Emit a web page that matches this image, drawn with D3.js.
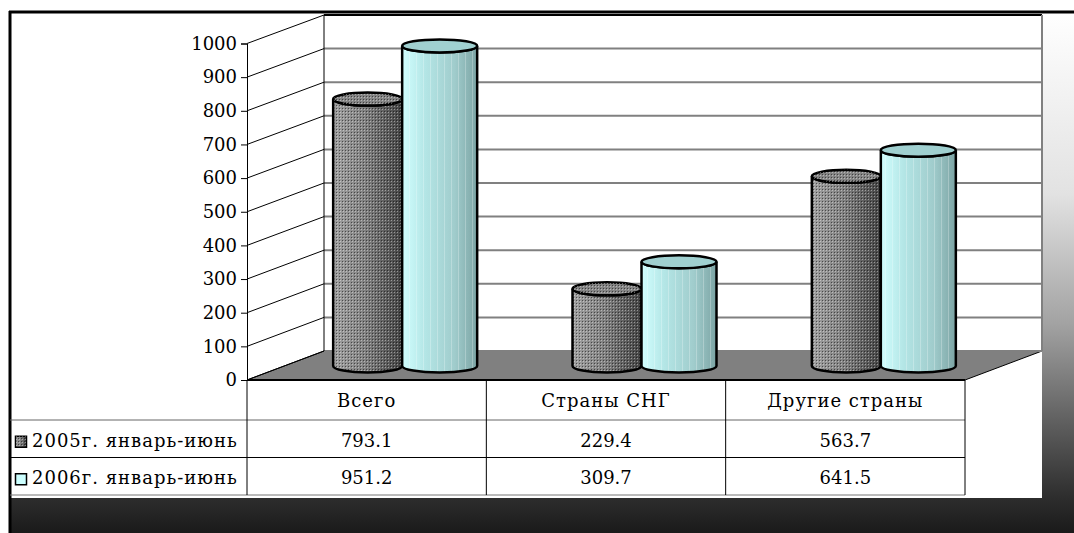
<!DOCTYPE html>
<html>
<head>
<meta charset="utf-8">
<script src="https://cdn.jsdelivr.net/npm/d3@7"></script>
<style>
  body { margin: 0; background: #fff; }
  text { font-family: "DejaVu Serif", serif; fill: #000; }
  .cyr { letter-spacing: 1px; }
</style>
</head>
<body>
<svg id="chart" width="1074" height="533"></svg>
<script>
var categories = ["Всего", "Страны СНГ", "Другие страны"];
var seriesNames = ["2005г. январь-июнь", "2006г. январь-июнь"];
var values2005 = [793.1, 229.4, 563.7];
var values2006 = [951.2, 309.7, 641.5];
var yTicks = [0, 100, 200, 300, 400, 500, 600, 700, 800, 900, 1000];

var svg = d3.select("#chart"),
    W = +svg.attr("width"),
    H = +svg.attr("height");

var depthX = 77, depthY = 29;

var x = d3.scaleBand()
    .domain(categories)
    .range([247, 965]);

// front axis, back wall, and the middle plane where the cylinders stand
var yFront = d3.scaleLinear().domain([0, 1000]).range([380, 43.5]);
var yBack = d3.scaleLinear().domain([0, 1000]).range([351, 15]);
var yMid = d3.scaleLinear().domain([0, 1000]).range([366, 29.5]);

var defs = svg.append("defs");

var bg = defs.append("linearGradient").attr("id", "bg")
    .attr("x1", 0).attr("y1", 0).attr("x2", 0).attr("y2", 1);
[[0, "#ffffff"], [0.35, "#e2e2e2"], [0.6, "#a2a2a2"], [0.78, "#626262"], [0.93, "#2e2e2e"], [1, "#1a1a1a"]]
    .forEach(function(s) { bg.append("stop").attr("offset", s[0]).attr("stop-color", s[1]); });

var gDark = defs.append("linearGradient").attr("id", "gDark");
[[0, "#a0a0a0"], [0.45, "#828282"], [1, "#444444"]]
    .forEach(function(s) { gDark.append("stop").attr("offset", s[0]).attr("stop-color", s[1]); });

var gCyan = defs.append("linearGradient").attr("id", "gCyan");
[[0, "#d2ffff"], [0.3, "#b4e6e6"], [0.7, "#a0cccc"], [1, "#7ca4a4"]]
    .forEach(function(s) { gCyan.append("stop").attr("offset", s[0]).attr("stop-color", s[1]); });

var dots = defs.append("pattern").attr("id", "dots")
    .attr("width", 3).attr("height", 3).attr("patternUnits", "userSpaceOnUse");
dots.append("rect").attr("width", 1).attr("height", 1).attr("fill", "rgba(0,0,0,0.5)");
dots.append("rect").attr("x", 1).attr("y", 1).attr("width", 1).attr("height", 1).attr("fill", "rgba(255,255,255,0.4)");

var stripes = defs.append("pattern").attr("id", "stripes")
    .attr("width", 7).attr("height", 10).attr("patternUnits", "userSpaceOnUse");
stripes.append("rect").attr("x", 3).attr("width", 1).attr("height", 10).attr("fill", "rgba(255,255,255,0.25)");

// slide background
svg.append("rect").attr("x", 10).attr("y", 12).attr("width", W - 10).attr("height", H - 12)
    .attr("fill", "url(#bg)");
svg.append("rect").attr("x", 10).attr("y", 12).attr("width", 1032).attr("height", 486)
    .attr("fill", "#fff");
svg.append("line").attr("x1", 9).attr("x2", W).attr("y1", 12).attr("y2", 12)
    .attr("stroke", "#000").attr("stroke-width", 3);
svg.append("line").attr("x1", 10).attr("x2", 10).attr("y1", 11).attr("y2", H)
    .attr("stroke", "#000").attr("stroke-width", 3);

var g = svg.append("g");
var x0 = x.range()[0], x1 = x.range()[1];

// floor
g.append("path")
    .attr("d", "M" + x0 + "," + yFront(0) + "L" + x1 + "," + yFront(0) +
        "L" + (x1 + depthX) + "," + yBack(0) + "L" + (x0 + depthX) + "," + yBack(0) + "Z")
    .attr("fill", "#808080").attr("stroke", "#000").attr("stroke-width", 1);

// back wall gridlines
g.selectAll(".grid").data(yTicks).enter().append("line")
    .attr("x1", x0 + depthX).attr("x2", x1 + depthX)
    .attr("y1", function(d) { return yBack(d); })
    .attr("y2", function(d) { return yBack(d); })
    .attr("stroke", function(d) { return d == 1000 ? "#000" : "#808080"; })
    .attr("stroke-width", 2);

// side wall diagonals
g.selectAll(".diag").data(yTicks).enter().append("line")
    .attr("x1", x0).attr("x2", x0 + depthX)
    .attr("y1", function(d) { return yFront(d); })
    .attr("y2", function(d) { return yBack(d); })
    .attr("stroke", "#000").attr("stroke-width", 1);

g.append("line").attr("x1", x0 + depthX).attr("x2", x0 + depthX)
    .attr("y1", yBack(1000)).attr("y2", yBack(0)).attr("stroke", "#000");
g.append("line").attr("x1", x1 + depthX).attr("x2", x1 + depthX)
    .attr("y1", yBack(1000)).attr("y2", yBack(0)).attr("stroke", "#808080").attr("stroke-width", 2);

// y axis
var yAxis = g.append("g")
    .attr("transform", "translate(" + x0 + ",0)")
    .call(d3.axisLeft(yFront).tickValues(yTicks).tickSize(6).tickPadding(4).tickFormat(d3.format("d")));
yAxis.selectAll("text").style("font-size", "18px").style("font-family", "DejaVu Serif").attr("fill", "#000");
yAxis.selectAll("line").attr("stroke", "#000");
yAxis.select(".domain").attr("stroke", "#000");

// cylinders
function cylinder(left, right, v, fill, overlay, topFill) {
    var rx = (right - left) / 2, ry = 6.5, cx = (left + right) / 2;
    var b = yMid(0), t = yMid(v);
    var body = "M" + left + "," + t + "L" + left + "," + b +
        "A" + rx + "," + ry + " 0 0 0 " + right + "," + b +
        "L" + right + "," + t +
        "A" + rx + "," + ry + " 0 0 1 " + left + "," + t + "Z";
    g.append("path").attr("d", body).attr("fill", fill);
    g.append("path").attr("d", body).attr("fill", overlay);
    g.append("path").attr("d", body).attr("fill", "none").attr("stroke", "#000").attr("stroke-width", 2.5);
    g.append("ellipse").attr("cx", cx).attr("cy", t).attr("rx", rx).attr("ry", ry)
        .attr("fill", topFill).attr("stroke", "#000").attr("stroke-width", 2.5);
    if (overlay == "url(#dots)") {
        g.append("ellipse").attr("cx", cx).attr("cy", t).attr("rx", rx).attr("ry", ry)
            .attr("fill", overlay);
    }
}

categories.forEach(function(c, i) {
    var split = x(c) + x.bandwidth() / 2 + 35.5;
    cylinder(split - 69, split, values2005[i], "url(#gDark)", "url(#dots)", "#858585");
    cylinder(split, split + 75, values2006[i], "url(#gCyan)", "url(#stripes)", "#a0d0d0");
});

// floor front edge
g.append("line").attr("x1", x0).attr("x2", x1).attr("y1", yFront(0)).attr("y2", yFront(0))
    .attr("stroke", "#000").attr("stroke-width", 2);

// data table
var rows = [380, 420, 457.5, 495];
var tbl = svg.append("g");
tbl.append("line").attr("x1", 10).attr("x2", x1).attr("y1", rows[1]).attr("y2", rows[1]).attr("stroke", "#666");
tbl.append("line").attr("x1", 10).attr("x2", x1).attr("y1", rows[2]).attr("y2", rows[2]).attr("stroke", "#000");
tbl.append("line").attr("x1", 10).attr("x2", x1).attr("y1", rows[3]).attr("y2", rows[3]).attr("stroke", "#777");
[x0].concat(categories.map(function(c) { return x(c) + x.bandwidth(); })).forEach(function(xx) {
    tbl.append("line").attr("x1", xx).attr("x2", xx).attr("y1", rows[0]).attr("y2", rows[3]).attr("stroke", "#000");
});

tbl.selectAll(".cat").data(categories).enter().append("text")
    .attr("class", "cyr")
    .attr("x", function(d) { return x(d) + x.bandwidth() / 2; })
    .attr("y", (rows[0] + rows[1]) / 2 + 7)
    .attr("text-anchor", "middle").style("font-size", "18px")
    .text(function(d) { return d; });

[values2005, values2006].forEach(function(vals, r) {
    var cy = (rows[r + 1] + rows[r + 2]) / 2 + 8;
    tbl.selectAll(".v" + r).data(vals).enter().append("text")
        .attr("x", function(d, i) { return x(categories[i]) + x.bandwidth() / 2; })
        .attr("y", cy)
        .attr("text-anchor", "middle").style("font-size", "18px")
        .text(function(d) { return d.toFixed(1); });
    var ky = (rows[r + 1] + rows[r + 2]) / 2 + 3;
    tbl.append("rect").attr("x", 15.5).attr("y", ky - 5.5).attr("width", 11).attr("height", 11)
        .attr("fill", r == 0 ? "url(#gDark)" : "#ccffff").attr("stroke", "#000").attr("stroke-width", 1.5);
    if (r == 0) {
        tbl.append("rect").attr("x", 15.5).attr("y", ky - 5.5).attr("width", 11).attr("height", 11)
            .attr("fill", "url(#dots)");
    }
    tbl.append("text").attr("class", "cyr").attr("x", 32).attr("y", cy)
        .style("font-size", "18px")
        .text(seriesNames[r]);
});
</script>
</body>
</html>
